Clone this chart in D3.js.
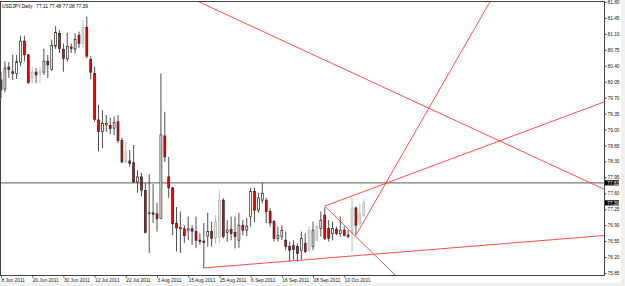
<!DOCTYPE html>
<html lang="en">
<head>
<meta charset="UTF-8">
<title>USDJPY Daily</title>
<style>
    body { margin: 0; background: #f0f0f0; }
    svg { display: block; }
    text { font-family: "Liberation Sans", Arial, sans-serif; }
    .axis path.domain { display: none; }
</style>
</head>
<body>
<svg width="625" height="286"></svg>
<script src="https://cdn.jsdelivr.net/npm/d3@7/dist/d3.min.js"></script>
<script>
(function () {
    'use strict';

    // trading days shown on the chart (2011)
    var JUN = [8, 9, 10, 13, 14, 15, 16, 17, 20, 21, 22, 23, 24, 27, 28, 29, 30];
    var JUL = [1, 4, 5, 6, 7, 8, 11, 12, 13, 14, 15, 18, 19, 20, 21, 22, 25, 26, 27, 28, 29];
    var AUG = [1, 2, 3, 4, 5, 8, 9, 10, 11, 12, 15, 16, 17, 18, 19, 22, 23, 24, 25, 26, 29, 30, 31];
    var SEP = [1, 2, 5, 6, 7, 8, 9, 12, 13, 14, 15, 16, 19, 20, 21, 22, 23, 26, 27, 28, 29, 30];
    var OCT = [3, 4, 5, 6, 7, 10, 11, 12, 13, 14, 17];

    var OPEN = [80.09, 79.89, 80.37, 80.27, 80.23, 80.48, 80.94, 80.64, 80.13, 80.26,
        80.22, 80.26, 80.50, 80.32, 80.83, 81.11, 80.76, 80.55, 80.81, 80.77,
        81.07, 80.89, 81.24, 80.54, 80.23, 79.21, 78.96, 79.10, 79.09, 79.03,
        79.17, 78.76, 78.29, 78.31, 78.27, 77.85, 77.96, 77.66, 77.17, 77.17,
        77.15, 77.05, 78.86, 77.96, 77.72, 76.94, 76.82, 76.82, 76.79, 76.82,
        76.76, 76.57, 76.55, 76.66, 76.76, 76.62, 76.65, 77.45, 76.74, 76.81,
        76.74, 76.57, 76.90, 76.79, 77.09, 77.64, 77.23, 77.45, 77.45, 77.20,
        76.98, 76.61, 76.65, 76.57, 76.43, 76.45, 76.43, 76.35, 76.50, 76.35,
        76.43, 76.57, 76.83, 77.12, 76.83, 76.72, 76.81, 76.72, 76.79, 76.68,
        76.73, 77.28, 76.93, 77.11];
    var HIGH = [80.26, 80.50, 80.48, 80.64, 80.64, 81.06, 81.06, 80.66, 80.38, 80.35,
        80.38, 80.78, 80.64, 80.97, 81.27, 81.19, 80.89, 81.12, 80.89, 81.11,
        81.15, 81.40, 81.48, 80.62, 80.38, 79.54, 79.43, 79.32, 79.26, 79.29,
        79.32, 78.82, 78.73, 78.55, 78.66, 78.11, 78.05, 77.83, 78.02, 77.80,
        77.39, 80.23, 79.39, 78.40, 77.74, 77.30, 77.20, 76.90, 77.09, 76.90,
        77.09, 76.72, 76.95, 77.17, 76.98, 77.12, 77.67, 77.49, 77.01, 77.09,
        77.09, 77.17, 77.01, 77.06, 77.72, 77.72, 77.61, 77.83, 77.50, 77.27,
        77.01, 76.87, 76.90, 76.76, 76.54, 76.57, 76.50, 76.76, 76.72, 76.87,
        76.98, 76.90, 77.20, 77.29, 77.01, 76.98, 76.87, 77.09, 76.87, 76.79,
        77.50, 77.31, 77.38, 77.48];
    var LOW = [79.69, 79.82, 80.13, 80.09, 80.11, 80.39, 80.49, 80.00, 80.02, 80.02,
        80.02, 80.20, 80.13, 80.29, 80.77, 80.68, 80.27, 80.49, 80.68, 80.67,
        80.79, 80.78, 80.57, 80.10, 79.17, 78.52, 78.59, 78.95, 78.90, 78.88,
        78.70, 78.26, 78.26, 78.18, 77.83, 77.61, 77.53, 76.72, 76.29, 76.95,
        76.76, 77.04, 78.29, 77.50, 76.68, 76.32, 76.29, 76.51, 76.57, 76.47,
        76.40, 76.47, 75.96, 76.43, 76.43, 76.50, 76.51, 76.61, 76.54, 76.57,
        76.39, 76.40, 76.68, 76.66, 76.87, 76.97, 77.17, 77.38, 76.95, 76.87,
        76.54, 76.54, 76.57, 76.35, 76.10, 76.14, 76.10, 76.14, 76.28, 76.32,
        76.35, 76.54, 76.65, 76.57, 76.54, 76.57, 76.68, 76.65, 76.65, 76.61,
        76.32, 76.68, 76.87, 77.08];
    var CLOSE = [79.87, 80.35, 80.32, 80.23, 80.49, 80.94, 80.64, 80.03, 80.26, 80.20,
        80.27, 80.50, 80.42, 80.85, 81.13, 80.78, 80.56, 80.82, 80.78, 80.98,
        80.89, 81.24, 80.61, 80.26, 79.22, 78.96, 79.13, 79.13, 79.02, 79.15,
        78.76, 78.29, 78.51, 78.26, 77.85, 77.96, 77.67, 76.74, 77.16, 77.14,
        77.04, 78.88, 78.40, 77.72, 76.93, 76.84, 76.85, 76.67, 76.82, 76.77,
        76.57, 76.54, 76.52, 76.76, 76.61, 76.97, 77.45, 76.65, 76.79, 76.72,
        76.65, 76.90, 76.79, 76.88, 77.64, 77.23, 77.50, 77.60, 77.20, 76.95,
        76.61, 76.68, 76.79, 76.43, 76.35, 76.37, 76.28, 76.61, 76.32, 76.79,
        76.79, 76.87, 77.01, 76.61, 76.61, 76.83, 76.72, 76.79, 76.68, 76.65,
        77.28, 76.90, 77.15, 77.39];

    var PRICE_TICKS = [75.85, 76.20, 76.55, 76.90, 77.25, 77.60, 77.95, 78.30, 78.65,
        79.00, 79.35, 79.70, 80.05, 80.40, 80.75, 81.10, 81.45, 81.80];

    // trend lines: two anchors each as [bar index, price], drawn as rays to the right
    var LINE_FALLING = [[50.3, 81.82], [120, 79.06]];
    var LINE_SUPPORT = [[52, 75.96], [148.5, 76.63]];
    var LINE_WEDGE_UP = [[83, 77.32], [148.5, 79.41]];
    var LINE_WEDGE_DOWN = [[83, 77.32], [96.7, 76.17]];
    var LINE_STEEP = [[91, 76.68], [125.4, 81.81]];
    var LEVEL = 77.83;

    var SYMBOL = "USDJPY,Daily";

    // ---- drawing ----
    var W = 625, H = 286;
    var LEFT = 0, RIGHT = 604, TOP = 1, BOTTOM = 275;
    var GREY_BARS = [8, 10, 21, 32, 55, 56, 79, 81, 90, 92, 93];

    var parse = d3.timeParse("%Y-%m-%d");
    var dates = [];
    [[6, JUN], [7, JUL], [8, AUG], [9, SEP], [10, OCT]].forEach(function (m) {
        m[1].forEach(function (d) { dates.push(parse("2011-" + m[0] + "-" + d)); });
    });
    var n = dates.length;
    var last = n - 1;

    var x = d3.scaleLinear().domain([0, 154.6]).range([1, RIGHT]);
    var y = d3.scaleLinear().domain([75.85, 81.80]).range([273, 2]);

    var svg = d3.select("svg");
    svg.append("rect").attr("width", 621).attr("height", 283).attr("fill", "#fff");

    svg.append("defs").append("clipPath").attr("id", "plot")
        .append("rect").attr("x", LEFT).attr("y", TOP)
        .attr("width", RIGHT - LEFT).attr("height", BOTTOM - TOP);

    var plot = svg.append("g").attr("clip-path", "url(#plot)");

    // horizontal level
    plot.append("line")
        .attr("x1", LEFT).attr("x2", RIGHT)
        .attr("y1", y(LEVEL)).attr("y2", y(LEVEL))
        .attr("stroke", "#7a7a7a").attr("stroke-width", 1.3);

    // candles
    var BW = 1.9;
    var bar = plot.selectAll(".bar").data(d3.range(n)).join("g").attr("class", "bar");
    function isGrey(i) { return GREY_BARS.indexOf(i) >= 0; }
    bar.append("line")
        .attr("x1", function (i) { return x(i); })
        .attr("x2", function (i) { return x(i); })
        .attr("y1", function (i) { return y(HIGH[i]); })
        .attr("y2", function (i) { return y(LOW[i]); })
        .attr("stroke", function (i) { return isGrey(i) ? "#b0b0b0" : "#222"; })
        .attr("stroke-width", 0.8);
    bar.append("rect")
        .attr("x", function (i) { return x(i) - BW / 2; })
        .attr("y", function (i) { return y(Math.max(OPEN[i], CLOSE[i])); })
        .attr("width", BW)
        .attr("height", function (i) { return Math.max(0.6, Math.abs(y(OPEN[i]) - y(CLOSE[i]))); })
        .attr("fill", function (i) {
            if (CLOSE[i] < OPEN[i]) return "#ff0000";
            return isGrey(i) ? "#e4e4e4" : "#fff";
        })
        .attr("stroke", function (i) { return isGrey(i) ? "#b0b0b0" : "#222"; })
        .attr("stroke-width", 0.7);

    // trend lines
    var line = d3.line().x(function (d) { return x(d[0]); }).y(function (d) { return y(d[1]); });
    function ray(p) {
        var far = 400;
        var t = (far - p[0][0]) / (p[1][0] - p[0][0]);
        return [p[0], [far, p[0][1] + (p[1][1] - p[0][1]) * t]];
    }
    plot.selectAll(".trend")
        .data([LINE_FALLING, LINE_SUPPORT, LINE_WEDGE_UP, LINE_WEDGE_DOWN, LINE_STEEP])
        .join("path").attr("class", "trend")
        .attr("d", function (d) { return line(ray(d)); })
        .attr("fill", "none")
        .attr("stroke", "#ff3838")
        .attr("stroke-width", 0.9);

    // frame
    svg.append("rect")
        .attr("x", LEFT + 0.5).attr("y", TOP + 0.5)
        .attr("width", RIGHT - LEFT).attr("height", BOTTOM - TOP)
        .attr("fill", "none").attr("stroke", "#444").attr("stroke-width", 1);

    // price axis
    var yAxis = d3.axisRight(y).tickValues(PRICE_TICKS)
        .tickFormat(d3.format(".2f")).tickSize(2).tickPadding(1);
    var ya = svg.append("g").attr("class", "axis")
        .attr("transform", "translate(" + (RIGHT + 0.5) + ",0)")
        .call(yAxis);
    ya.selectAll("line").attr("stroke", "#444");
    ya.selectAll("text").attr("font-size", "4.8px").attr("fill", "#111")
        .attr("font-family", "Liberation Sans, Arial, sans-serif");

    // price tags
    [LEVEL, CLOSE[last]].forEach(function (p) {
        var t = svg.append("g").attr("transform", "translate(" + (RIGHT + 1) + "," + y(p) + ")");
        t.append("rect").attr("x", 0).attr("y", -2.6).attr("width", 14).attr("height", 5.2).attr("fill", "#000");
        t.append("text").attr("x", 2).attr("dy", "0.35em").attr("font-size", "4.8px")
            .attr("fill", "#fff").text(d3.format(".2f")(p));
    });

    // date axis
    var fmt = d3.timeFormat("%-d %b %Y");
    var xAxis = d3.axisBottom(x).tickValues(d3.range(0, n, 8))
        .tickFormat(function (i) { return fmt(dates[i]); }).tickSize(2);
    var xa = svg.append("g").attr("class", "axis")
        .attr("transform", "translate(0," + (BOTTOM + 0.5) + ")")
        .call(xAxis);
    xa.selectAll("line").attr("stroke", "#444");
    xa.selectAll("text").attr("font-size", "4.8px").attr("fill", "#111")
        .attr("text-anchor", "start").attr("x", 0).attr("y", 3.4)
        .attr("font-family", "Liberation Sans, Arial, sans-serif");

    // title
    var f2 = d3.format(".2f");
    svg.append("text").attr("x", 2).attr("y", 7.6).attr("font-size", "4.8px").attr("fill", "#000")
        .style("white-space", "pre")
        .text(SYMBOL + "   " + [OPEN[last], HIGH[last], LOW[last], CLOSE[last]].map(f2).join(" "));
})();
</script>
</body>
</html>
